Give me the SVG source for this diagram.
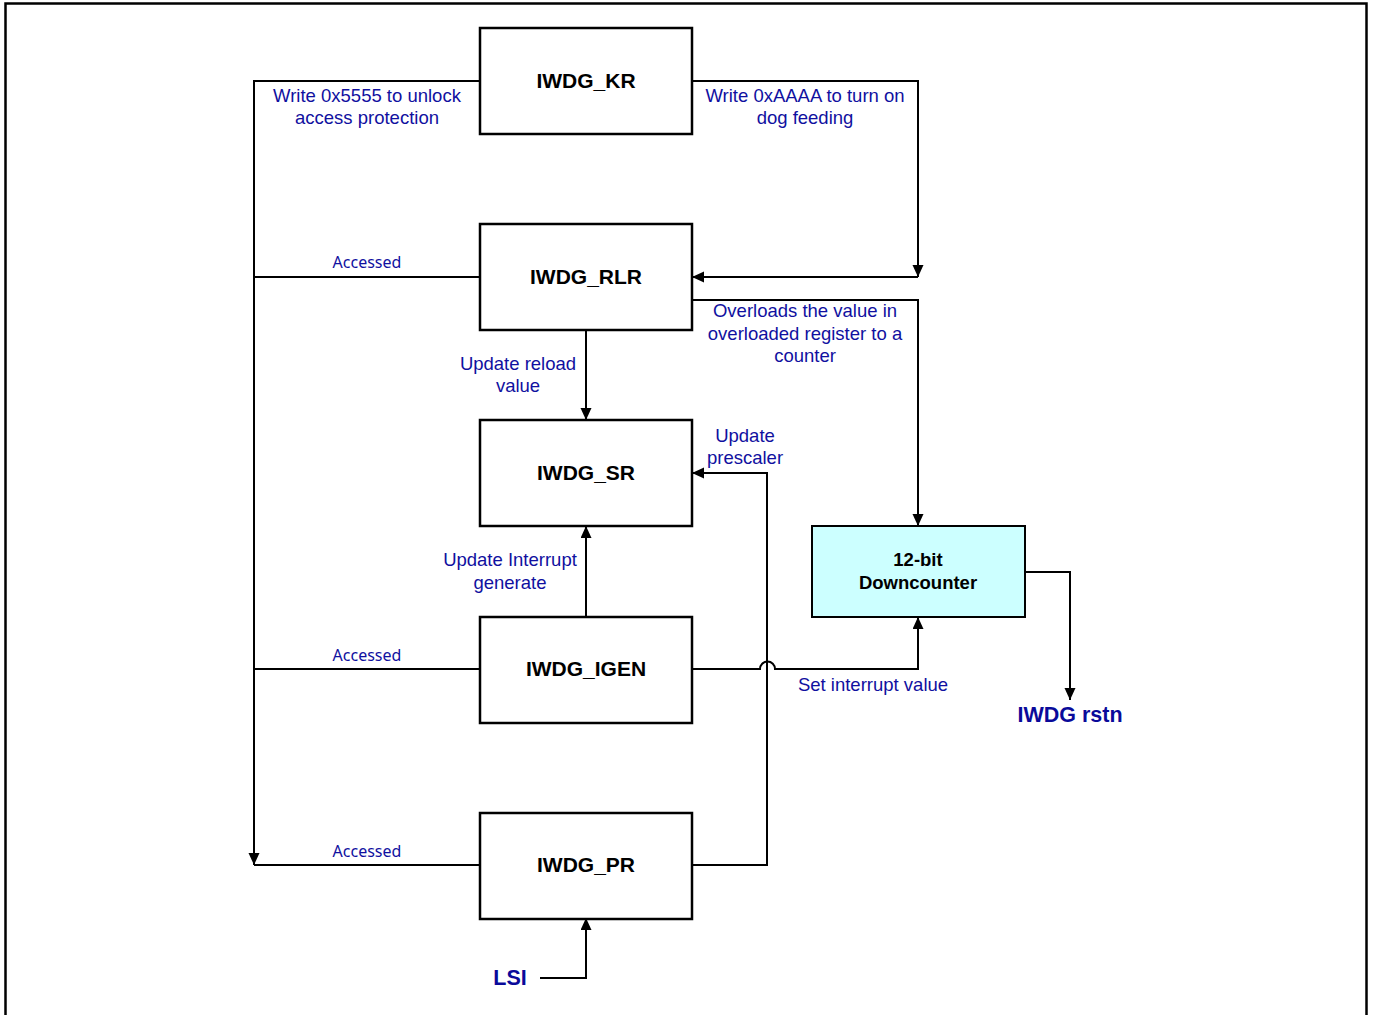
<svg xmlns="http://www.w3.org/2000/svg" width="1374" height="1015" viewBox="0 0 1374 1015">
  <defs>
    <marker id="arrow" markerUnits="userSpaceOnUse" markerWidth="14" markerHeight="14" refX="12" refY="5.5" orient="auto">
      <path d="M0,0 L12,5.5 L0,11 Z" fill="#000"/>
    </marker>
    <style>
      .box { fill: #fff; stroke: #000; stroke-width: 2.5; }
      .counter { fill: #ccffff; stroke: #000; stroke-width: 2; }
      .wire { fill: none; stroke: #000; stroke-width: 2; }
      .arr { marker-end: url(#arrow); }
      .name { font-family: "Liberation Sans", Arial, sans-serif; font-weight: bold; font-size: 21px; fill: #000; text-anchor: middle; }
      .name-sm { font-family: "Liberation Sans", Arial, sans-serif; font-weight: bold; font-size: 18.5px; fill: #000; text-anchor: middle; }
      .lbl { font-family: "Liberation Sans", Arial, sans-serif; font-size: 18.5px; fill: #1010a0; text-anchor: middle; }
      .acc { font-family: "Noto Sans", "Open Sans", sans-serif; font-size: 16px; fill: #1010a0; text-anchor: middle; }
      .sig { font-family: "Liberation Sans", Arial, sans-serif; font-weight: bold; font-size: 21.5px; fill: #0a0a9a; text-anchor: middle; }
    </style>
  </defs>

  <!-- outer frame -->
  <rect x="5.5" y="3.5" width="1361" height="1030" fill="#fff" stroke="#000" stroke-width="2.5"/>

  <!-- connectors -->
  <g id="connectors">
    <path class="wire arr" d="M480,81 H254 V865"/>
    <path class="wire" d="M480,277 H254"/>
    <path class="wire" d="M480,669 H254"/>
    <path class="wire" d="M480,865 H254"/>
    <path class="wire arr" d="M692,81 H918 V277"/>
    <path class="wire arr" d="M918,277 H692"/>
    <path class="wire arr" d="M692,300 H918 V526"/>
    <path class="wire arr" d="M586,330 V420"/>
    <path class="wire arr" d="M586,617 V526"/>
    <path class="wire arr" d="M692,669 H760 A7.5,7.5 0 0 1 775,669 H918 V617"/>
    <path class="wire arr" d="M692,865 H767 V473 H692"/>
    <path class="wire arr" d="M1025,572 H1070 V700"/>
    <path class="wire arr" d="M540,978 H586 V918"/>
  </g>

  <!-- registers -->
  <g id="iwdg_kr">
    <rect class="box" x="480" y="28" width="212" height="106"/>
    <text class="name" x="586" y="88">IWDG_KR</text>
  </g>
  <g id="iwdg_rlr">
    <rect class="box" x="480" y="224" width="212" height="106"/>
    <text class="name" x="586" y="284">IWDG_RLR</text>
  </g>
  <g id="iwdg_sr">
    <rect class="box" x="480" y="420" width="212" height="106"/>
    <text class="name" x="586" y="480">IWDG_SR</text>
  </g>
  <g id="iwdg_igen">
    <rect class="box" x="480" y="617" width="212" height="106"/>
    <text class="name" x="586" y="676">IWDG_IGEN</text>
  </g>
  <g id="iwdg_pr">
    <rect class="box" x="480" y="813" width="212" height="106"/>
    <text class="name" x="586" y="872">IWDG_PR</text>
  </g>
  <g id="downcounter">
    <rect class="counter" x="812" y="526" width="213" height="91"/>
    <text class="name-sm" x="918" y="566">12-bit</text>
    <text class="name-sm" x="918" y="589">Downcounter</text>
  </g>

  <!-- connector labels -->
  <g id="labels">
    <text class="lbl" x="367" y="102">Write 0x5555 to unlock</text>
    <text class="lbl" x="367" y="124">access protection</text>
    <text class="lbl" x="805" y="102">Write 0xAAAA to turn on</text>
    <text class="lbl" x="805" y="124">dog feeding</text>
    <text class="acc" x="367" y="268">Accessed</text>
    <text class="acc" x="367" y="661">Accessed</text>
    <text class="acc" x="367" y="857">Accessed</text>
    <text class="lbl" x="805" y="317">Overloads the value in</text>
    <text class="lbl" x="805" y="340">overloaded register to a</text>
    <text class="lbl" x="805" y="362">counter</text>
    <text class="lbl" x="518" y="370">Update reload</text>
    <text class="lbl" x="518" y="392">value</text>
    <text class="lbl" x="745" y="442">Update</text>
    <text class="lbl" x="745" y="464">prescaler</text>
    <text class="lbl" x="510" y="566">Update Interrupt</text>
    <text class="lbl" x="510" y="589">generate</text>
    <text class="lbl" x="873" y="691">Set interrupt value</text>
  </g>

  <!-- external signals -->
  <g id="iwdg_rstn">
    <text class="sig" x="1070" y="722">IWDG rstn</text>
  </g>
  <g id="lsi">
    <text class="sig" x="510" y="985">LSI</text>
  </g>
</svg>
